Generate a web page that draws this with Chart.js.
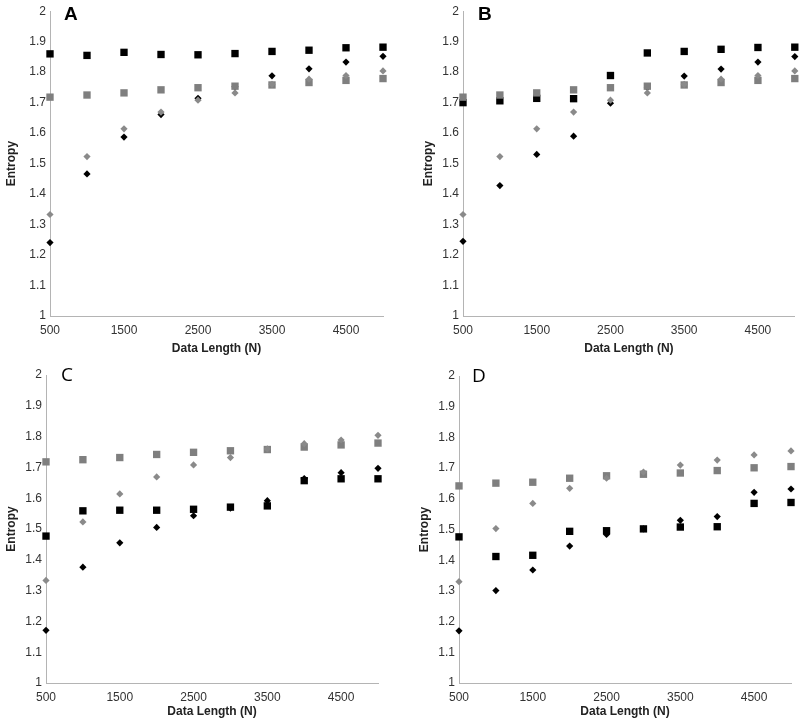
<!DOCTYPE html>
<html>
<head>
<meta charset="utf-8">
<script src="https://cdn.jsdelivr.net/npm/chart.js@4/dist/chart.umd.min.js"></script>
<style>
  body { margin: 0; background: #fff; }
  #page { position: relative; width: 800px; height: 723px; overflow: hidden; }
  .panel { position: absolute; }
  .tag { position: absolute; font-family: "Liberation Sans", Arial, sans-serif; color: #000; line-height: 1; }
</style>
</head>
<body>
<div id="page">
  <div class="panel" style="left:0;top:0;width:400px;height:360px"><canvas id="chartA"></canvas></div>
  <div class="panel" style="left:400px;top:0;width:400px;height:360px"><canvas id="chartB"></canvas></div>
  <div class="panel" style="left:0;top:360px;width:400px;height:363px"><canvas id="chartC"></canvas></div>
  <div class="panel" style="left:400px;top:360px;width:400px;height:363px"><canvas id="chartD"></canvas></div>
  <div class="tag" style="left:64px;top:4px;font-size:19px;font-weight:bold">A</div>
  <div class="tag" style="left:478px;top:4px;font-size:19px;font-weight:bold">B</div>
  <div class="tag" style="left:61px;top:365px;font-family:'Open Sans',sans-serif;font-size:19px">C</div>
  <div class="tag" style="left:472px;top:366px;font-family:'Open Sans',sans-serif;font-size:19px">D</div>
</div>
<script>
// x 값 (데이터 길이)
var dataLength = [500, 1000, 1500, 2000, 2500, 3000, 3500, 4000, 4500, 5000];
var xTicks = [500, 1500, 2500, 3500, 4500];
var yTicks = [1, 1.1, 1.2, 1.3, 1.4, 1.5, 1.6, 1.7, 1.8, 1.9, 2];

// A
var blackSquaresA = [1.860, 1.855, 1.865, 1.858, 1.857, 1.861, 1.868, 1.872, 1.880, 1.882];
var blackDiamondsA = [1.241, 1.466, 1.587, 1.661, 1.714, 1.752, 1.788, 1.811, 1.833, 1.852];
var graySquaresA = [1.718, 1.725, 1.732, 1.742, 1.749, 1.754, 1.758, 1.766, 1.773, 1.779];
var grayDiamondsA = [1.333, 1.523, 1.614, 1.669, 1.708, 1.732, 1.760, 1.777, 1.789, 1.804];

// B
var blackSquaresB = [1.700, 1.706, 1.714, 1.713, 1.789, 1.863, 1.868, 1.875, 1.881, 1.882];
var blackDiamondsB = [1.245, 1.428, 1.530, 1.590, 1.698, 1.750, 1.787, 1.810, 1.833, 1.851];
var graySquaresB = [1.718, 1.725, 1.732, 1.742, 1.749, 1.754, 1.758, 1.766, 1.773, 1.779];
var grayDiamondsB = [1.333, 1.523, 1.614, 1.669, 1.708, 1.732, 1.760, 1.777, 1.789, 1.804];

// C
var blackSquaresC = [1.477, 1.559, 1.561, 1.561, 1.564, 1.571, 1.575, 1.657, 1.663, 1.663];
var blackDiamondsC = [1.171, 1.376, 1.455, 1.505, 1.543, 1.568, 1.592, 1.664, 1.683, 1.697];
var graySquaresC = [1.718, 1.725, 1.732, 1.742, 1.749, 1.754, 1.758, 1.766, 1.773, 1.779];
var grayDiamondsC = [1.333, 1.523, 1.614, 1.669, 1.708, 1.732, 1.760, 1.777, 1.789, 1.804];

// D
var blackSquaresD = [1.476, 1.412, 1.416, 1.494, 1.496, 1.502, 1.508, 1.509, 1.585, 1.588];
var blackDiamondsD = [1.170, 1.301, 1.368, 1.446, 1.484, 1.502, 1.530, 1.542, 1.621, 1.632];
var graySquaresD = [1.642, 1.651, 1.654, 1.667, 1.675, 1.680, 1.684, 1.692, 1.701, 1.705];
var grayDiamondsD = [1.330, 1.503, 1.585, 1.634, 1.667, 1.687, 1.710, 1.726, 1.743, 1.756];

function pts(ys) {
  return dataLength.map(function (x, i) { return { x: x, y: ys[i] }; });
}

function set(ys, color, style, r) {
  return {
    data: pts(ys),
    backgroundColor: color,
    borderWidth: 0,
    pointStyle: style,
    pointRadius: r,
    pointHoverRadius: r,
    clip: false, // 축 끝의 점이 잘리지 않게
  };
}

function makeChart(id, series, pad, yWidth, xHeight) {
  var axisColor = '#b4b4b4';
  var tickFont = { family: 'Liberation Sans', size: 12 };
  var titleFont = { family: 'Liberation Sans', size: 12, weight: 'bold' };
  return new Chart(document.getElementById(id), {
    type: 'scatter',
    data: {
      datasets: [
        set(series[3], '#8a8a8a', 'rectRot', 3.6), // 회색 다이아몬드
        set(series[2], '#7f7f7f', 'rect', 5.2),    // 회색 사각형
        set(series[1], '#000000', 'rectRot', 3.6), // 검정 다이아몬드
        set(series[0], '#000000', 'rect', 5.2),    // 검정 사각형
      ],
    },
    options: {
      responsive: true,
      maintainAspectRatio: false,
      animation: false,
      layout: { padding: pad },
      plugins: { legend: { display: false }, tooltip: { enabled: false } },
      scales: {
        x: {
          type: 'linear',
          min: 500,
          max: 5000,
          afterBuildTicks: function (s) { s.ticks = xTicks.map(function (v) { return { value: v }; }); },
          afterFit: function (s) { s.height = xHeight; },
          grid: { display: true, drawOnChartArea: false, tickLength: 0, color: axisColor },
          border: { color: axisColor, width: 1 },
          ticks: {
            font: tickFont,
            color: '#333',
            padding: 7,
            maxRotation: 0,
            callback: function (v) { return String(v); },
          },
          title: { display: true, text: 'Data Length (N)', font: titleFont, color: '#222', padding: { top: 2, bottom: 4 } },
        },
        y: {
          min: 1,
          max: 2,
          afterBuildTicks: function (s) { s.ticks = yTicks.map(function (v) { return { value: v }; }); },
          afterFit: function (s) { s.width = yWidth; },
          grid: { display: true, drawOnChartArea: false, tickLength: 0, color: axisColor },
          border: { color: axisColor, width: 1 },
          ticks: {
            font: tickFont,
            color: '#333',
            padding: 4,
            callback: function (v) { return String(Math.round(v * 10) / 10); },
          },
          title: { display: true, text: 'Entropy', font: titleFont, color: '#222', padding: { top: 4, bottom: 2 } },
        },
      },
    },
  });
}

makeChart('chartA', [blackSquaresA, blackDiamondsA, graySquaresA, grayDiamondsA], { left: 0, top: 8, right: 17, bottom: 0 }, 50, 44);
makeChart('chartB', [blackSquaresB, blackDiamondsB, graySquaresB, grayDiamondsB], { left: 17, top: 8, right: 4, bottom: 0 }, 46, 44);
makeChart('chartC', [blackSquaresC, blackDiamondsC, graySquaresC, grayDiamondsC], { left: 0, top: 15, right: 22, bottom: 0 }, 46, 40);
makeChart('chartD', [blackSquaresD, blackDiamondsD, graySquaresD, grayDiamondsD], { left: 13, top: 16, right: 9, bottom: 0 }, 46, 40);
</script>
</body>
</html>
